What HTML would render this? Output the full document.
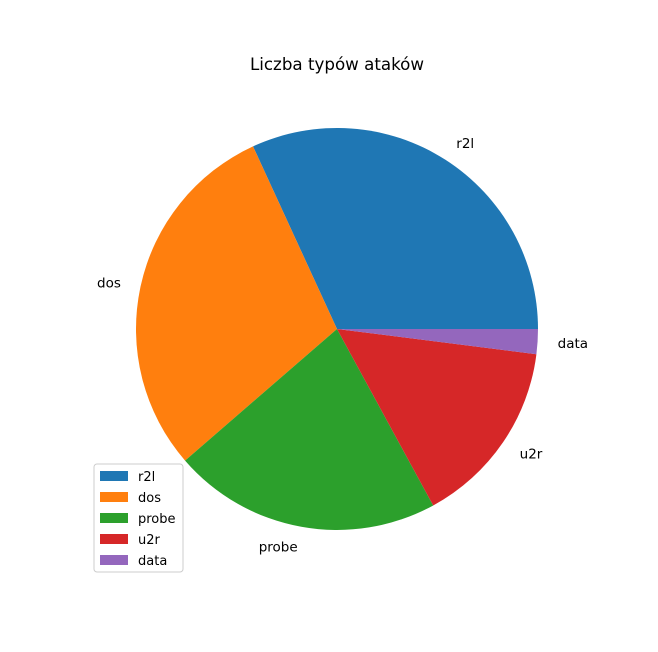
<!DOCTYPE html>
<html><head><meta charset="utf-8"><style>
body{margin:0;background:#fff}
svg{display:block;font-family:"DejaVu Sans","Liberation Sans",sans-serif}
</style></head><body>
<svg id="chart" width="658" height="652">
<text x="337" y="70" text-anchor="middle" font-size="16.7" fill="#000">Liczba typów ataków</text>
<g id="slices"></g><g id="labels"></g><g id="legend"></g>
</svg>
<script>
const categories=["r2l","dos","probe","u2r","data"];
const values=[114.7,106.2,77.7,54.2,7.2];
const colors=["#1f77b4","#ff7f0e","#2ca02c","#d62728","#9467bd"];
const NS="http://www.w3.org/2000/svg";
const cx=337,cy=329,r=201;
const total=values.reduce((a,b)=>a+b,0);
function pt(a,rad){return [cx+rad*Math.cos(a),cy-rad*Math.sin(a)];}
let start=0;
const gs=document.getElementById('slices'),gl=document.getElementById('labels'),gleg=document.getElementById('legend');
values.forEach((v,i)=>{
  const sweep=v/total*2*Math.PI,end=start+sweep;
  const [x1,y1]=pt(start,r),[x2,y2]=pt(end,r);
  const p=document.createElementNS(NS,'path');
  p.setAttribute('d',`M${cx},${cy} L${x1},${y1} A${r},${r} 0 ${sweep>Math.PI?1:0} 0 ${x2},${y2} Z`);
  p.setAttribute('fill',colors[i]);
  
  
  gs.appendChild(p);
  const mid=(start+end)/2,[lx,ly]=pt(mid,r*1.1);
  const t=document.createElementNS(NS,'text');
  t.setAttribute('x',lx);t.setAttribute('y',ly+5);t.setAttribute('font-size','13.5');
  t.setAttribute('text-anchor',Math.cos(mid)>0.01?'start':(Math.cos(mid)<-0.01?'end':'middle'));
  t.textContent=categories[i];
  
  
  gl.appendChild(t);
  start=end;
});
const box=document.createElementNS(NS,'rect');
box.setAttribute('x',94);box.setAttribute('y',464);box.setAttribute('width',89);box.setAttribute('height',108);
box.setAttribute('rx',3);box.setAttribute('fill','#fff');box.setAttribute('fill-opacity','0.8');box.setAttribute('stroke','#ccc');


gleg.appendChild(box);
categories.forEach((c,i)=>{
  const y=470+i*21;
  const sw=document.createElementNS(NS,'rect');
  sw.setAttribute('x',100);sw.setAttribute('y',y+1);sw.setAttribute('width',28);sw.setAttribute('height',10);sw.setAttribute('fill',colors[i]);
  
  
  gleg.appendChild(sw);
  const t=document.createElementNS(NS,'text');
  t.setAttribute('x',138);t.setAttribute('y',y+11);t.setAttribute('font-size','13');t.textContent=c;
  
  
  gleg.appendChild(t);
});
</script>
</body></html>
